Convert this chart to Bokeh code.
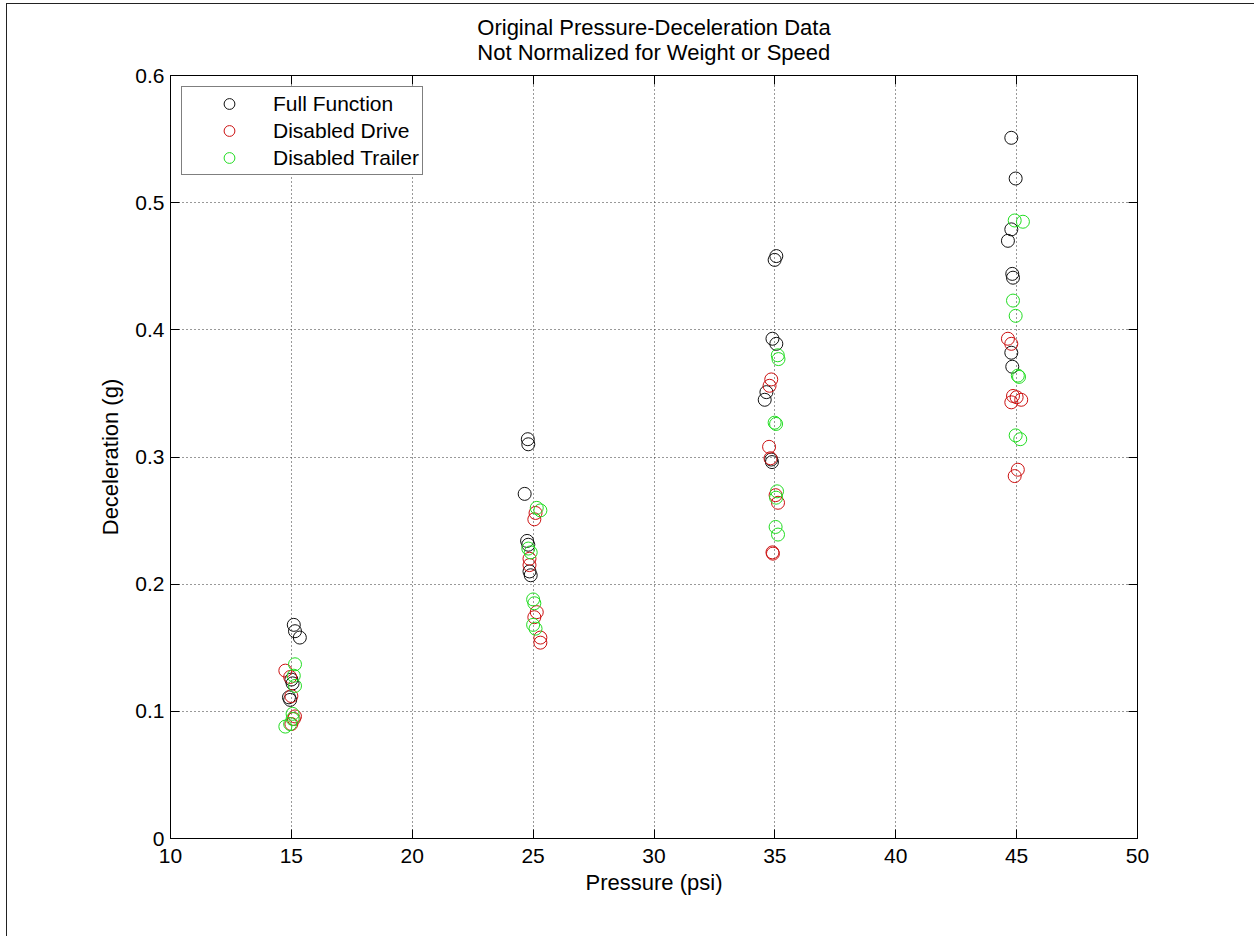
from bokeh.plotting import figure
from bokeh.models import Legend, LegendItem, LinearAxis, FixedTicker, Title, Range1d
from bokeh.embed import file_html
from bokeh.resources import INLINE

# ---------------- data ----------------
title_lines = ["Original Pressure-Deceleration Data", "Not Normalized for Weight or Speed"]
x_label = "Pressure (psi)"
y_label = "Deceleration (g)"
x_ticks = [10, 15, 20, 25, 30, 35, 40, 45, 50]
x_tick_labels = ["10", "15", "20", "25", "30", "35", "40", "45", "50"]
y_ticks = [0, 0.1, 0.2, 0.3, 0.4, 0.5, 0.6]
y_tick_labels = ["0", "0.1", "0.2", "0.3", "0.4", "0.5", "0.6"]
series_names = ["Full Function", "Disabled Drive", "Disabled Trailer"]
series_colors = ["#111111", "#cc1111", "#22dd22"]

full_x = [15.1, 15.15, 15.35, 15.0, 15.05, 14.9, 14.95,
          24.78, 24.8, 24.65, 24.75, 24.8, 24.85, 24.9,
          35.06, 34.99, 34.9, 35.06, 34.65, 34.58, 34.85, 34.88,
          44.78, 44.96, 44.78, 44.64, 44.82, 44.85, 44.78, 44.82]
full_y = [0.168, 0.163, 0.158, 0.125, 0.122, 0.111, 0.109,
          0.314, 0.310, 0.271, 0.234, 0.231, 0.210, 0.207,
          0.458, 0.455, 0.393, 0.389, 0.351, 0.345, 0.298, 0.296,
          0.551, 0.519, 0.479, 0.470, 0.444, 0.441, 0.382, 0.371]

drive_x = [14.75, 14.95, 15.0, 15.1, 15.15, 15.0,
           25.1, 25.05, 24.85, 24.85, 25.15, 25.05, 25.3, 25.3,
           34.85, 34.78, 34.76, 34.82, 35.03, 35.13, 34.9, 34.92,
           44.64, 44.78, 44.85, 45.0, 45.19, 44.78, 45.05, 44.92]
drive_y = [0.132, 0.127, 0.112, 0.094, 0.096, 0.090,
           0.256, 0.251, 0.220, 0.215, 0.178, 0.174, 0.158, 0.154,
           0.361, 0.356, 0.308, 0.299, 0.270, 0.264, 0.225, 0.224,
           0.393, 0.389, 0.348, 0.347, 0.345, 0.343, 0.290, 0.285]

trailer_x = [15.15, 15.1, 15.15, 15.05, 14.75, 14.95, 15.05,
             25.15, 25.3, 24.8, 24.9, 25.0, 25.05, 25.0, 25.1,
             35.12, 35.15, 34.99, 35.05, 35.09, 35.05, 35.03, 35.13,
             44.92, 45.26, 44.85, 44.96, 45.05, 45.1, 44.96, 45.15]
trailer_y = [0.137, 0.128, 0.120, 0.098, 0.088, 0.090, 0.094,
             0.260, 0.258, 0.228, 0.225, 0.188, 0.185, 0.168, 0.165,
             0.380, 0.377, 0.327, 0.326, 0.273, 0.268, 0.245, 0.239,
             0.486, 0.485, 0.423, 0.411, 0.364, 0.363, 0.317, 0.314]

FONT = "Liberation Sans"

p = figure(width=1248, height=933, output_backend="svg", toolbar_location=None,
           x_range=Range1d(10, 50), y_range=Range1d(0, 0.6),
           min_border_left=163, min_border_right=118, min_border_top=71, min_border_bottom=99,
           background_fill_color="white", border_fill_color="white")
p.styles = {"margin-left": "6px", "margin-top": "3px",
            "border-left": "1px solid #222", "border-top": "1px solid #222"}
p.outline_line_color = "#000000"
p.outline_line_width = 1

def style_axis(ax, labels=True):
    ax.axis_line_color = "#000000"
    ax.major_tick_in = 9
    ax.major_tick_out = 0
    ax.minor_tick_line_color = None
    ax.major_tick_line_color = "#000000"
    ax.major_label_text_font = FONT
    ax.axis_label_text_font = FONT
    ax.axis_label_text_font_style = "normal"
    ax.axis_label_text_color = "#000000"
    ax.axis_label_text_font_size = "22px"
    if labels:
        ax.major_label_text_font_size = "21px"
        ax.major_label_text_color = "#000000"
    else:
        ax.major_label_text_font_size = "1px"
        ax.major_label_text_color = None

xax = p.xaxis[0]
xax.ticker = FixedTicker(ticks=x_ticks)
xax.major_label_overrides = {t: l for t, l in zip(x_ticks, x_tick_labels)}
xax.axis_label = x_label
style_axis(xax)
xax.major_label_standoff = 10
xax.axis_label_standoff = 4

yax = p.yaxis[0]
yax.ticker = FixedTicker(ticks=y_ticks)
yax.major_label_overrides = {t: l for t, l in zip(y_ticks, y_tick_labels)}
yax.axis_label = y_label
style_axis(yax)
yax.major_label_standoff = 6
yax.axis_label_standoff = 9

top_ax = LinearAxis(ticker=FixedTicker(ticks=x_ticks))
style_axis(top_ax, labels=False)
p.add_layout(top_ax, "above")
right_ax = LinearAxis(ticker=FixedTicker(ticks=y_ticks))
style_axis(right_ax, labels=False)
p.add_layout(right_ax, "right")

for g in (p.xgrid[0], p.ygrid[0]):
    g.grid_line_color = "#333333"
    g.grid_line_dash = "1 3"
    g.grid_line_width = 1
p.xgrid[0].ticker = FixedTicker(ticks=x_ticks)
p.ygrid[0].ticker = FixedTicker(ticks=y_ticks)

p.add_layout(Title(text="\n".join(title_lines), align="center", vertical_align="top",
                   text_font=FONT, text_font_size="22px", text_font_style="normal",
                   text_color="#000000", text_line_height=1.0, standoff=18), "above")

series = [(full_x, full_y), (drive_x, drive_y), (trailer_x, trailer_y)]
items = []
for (xs, ys), name, col in zip(series, series_names, series_colors):
    r = p.scatter(xs, ys, marker="circle", size=13, fill_color=None,
                  line_color=col, line_width=1)
    items.append(LegendItem(label=name, renderers=[r]))

legend = Legend(items=items, location="top_left", margin=11, padding=3,
                glyph_width=88, glyph_height=27, label_height=27, label_standoff=0,
                spacing=0, border_line_color="#000000", border_line_width=1,
                background_fill_color="white", background_fill_alpha=1,
                label_text_font=FONT, label_text_font_size="21px", label_text_color="#000000")
p.add_layout(legend)

open("out.html", "w").write(file_html(p, INLINE))
